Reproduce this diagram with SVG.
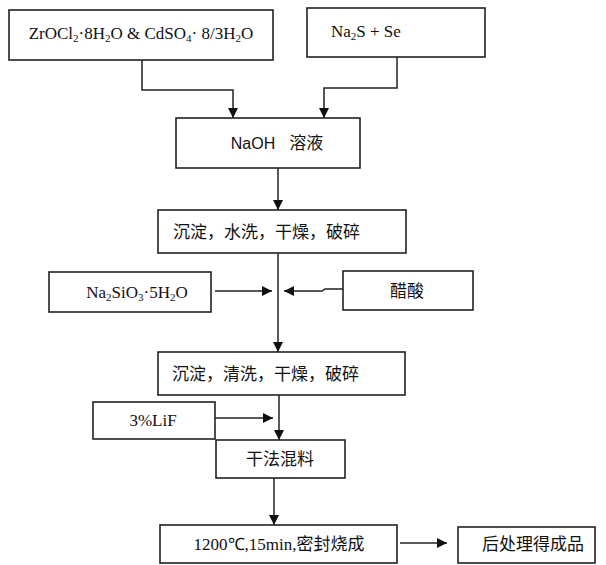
<svg xmlns="http://www.w3.org/2000/svg" width="606" height="565" viewBox="0 0 606 565">
<defs>
<style>
.box{fill:#fff;stroke:#222;stroke-width:1.6}
.ln{fill:none;stroke:#222;stroke-width:1.5}
.lat{font-family:"Liberation Serif","Times New Roman",serif;font-size:17px;fill:#111}
.cn{font-family:"Noto Sans CJK SC","Noto Sans",sans-serif;font-size:17px;fill:#111}
.sans{font-family:"Liberation Sans","Noto Sans CJK SC",sans-serif;font-size:16px;fill:#111}
</style>
<marker id="ah" viewBox="0 0 10 10" refX="10" refY="5" markerWidth="10" markerHeight="10" markerUnits="userSpaceOnUse" orient="auto">
<path d="M0,0 L10,5 L0,10 Z" fill="#111"/>
</marker>
</defs>
<rect width="606" height="565" fill="#fff"/>
<g id="connectors">
<path class="ln" d="M142,60 V90 H233 V118" marker-end="url(#ah)"/>
<path class="ln" d="M397,57 V88 H324 V118" marker-end="url(#ah)"/>
<path class="ln" d="M278,168 V210" marker-end="url(#ah)"/>
<path class="ln" d="M278,253 V352" marker-end="url(#ah)"/>
<path class="ln" d="M215,291 H272" marker-end="url(#ah)"/>
<path class="ln" d="M343,289 H325 L322,291 H284" marker-end="url(#ah)"/>
<path class="ln" d="M279,395 V440" marker-end="url(#ah)"/>
<path class="ln" d="M215,418 H273" marker-end="url(#ah)"/>
<path class="ln" d="M274,478 V525" marker-end="url(#ah)"/>
<path class="ln" d="M400,543 H447" marker-end="url(#ah)"/>
</g>
<g id="n1">
<rect class="box" x="9" y="10" width="264" height="50"/>
<text class="lat" x="141" y="39" text-anchor="middle">ZrOCl<tspan font-size="11" dy="3">2</tspan><tspan dy="-3">·8H</tspan><tspan font-size="11" dy="3">2</tspan><tspan dy="-3">O &amp; CdSO</tspan><tspan font-size="11" dy="3">4</tspan><tspan dy="-3">· 8/3H</tspan><tspan font-size="11" dy="3">2</tspan><tspan dy="-3">O</tspan></text>
</g>
<g id="n2">
<rect class="box" x="307" y="8" width="178" height="49"/>
<text class="lat" x="331" y="37">Na<tspan font-size="11" dy="3">2</tspan><tspan dy="-3">S + Se</tspan></text>
</g>
<g id="n3">
<rect class="box" x="176" y="118" width="184" height="50"/>
<text class="sans" x="277" y="149" text-anchor="middle">NaOH<tspan class="cn" dx="14">溶液</tspan></text>
</g>
<g id="n4">
<rect class="box" x="158" y="210" width="248" height="43"/>
<text class="cn" x="173" y="238">沉淀，水洗，干燥，破碎</text>
</g>
<g id="n5">
<rect class="box" x="49" y="272" width="162" height="40"/>
<text class="lat" x="137" y="298" text-anchor="middle">Na<tspan font-size="11" dy="3">2</tspan><tspan dy="-3">SiO</tspan><tspan font-size="11" dy="3">3</tspan><tspan dy="-3">·5H</tspan><tspan font-size="11" dy="3">2</tspan><tspan dy="-3">O</tspan></text>
</g>
<g id="n6">
<rect class="box" x="343" y="271" width="130" height="39"/>
<text class="cn" x="407" y="297" text-anchor="middle">醋酸</text>
</g>
<g id="n7">
<rect class="box" x="158" y="352" width="247" height="43"/>
<text class="cn" x="172" y="380">沉淀，清洗，干燥，破碎</text>
</g>
<g id="n8">
<rect class="box" x="93" y="402" width="122" height="37"/>
<text class="lat" x="153" y="426" text-anchor="middle">3%LiF</text>
</g>
<g id="n9">
<rect class="box" x="216" y="440" width="129" height="38"/>
<text class="cn" x="280" y="465" text-anchor="middle">干法混料</text>
</g>
<g id="n10">
<rect class="box" x="160" y="525" width="237" height="38"/>
<text class="lat" x="279" y="550" text-anchor="middle">1200℃,15min,<tspan class="cn">密封烧成</tspan></text>
</g>
<g id="n11">
<rect class="box" x="458" y="527" width="137" height="36"/>
<text class="cn" x="533" y="550" text-anchor="middle">后处理得成品</text>
</g>
</svg>
